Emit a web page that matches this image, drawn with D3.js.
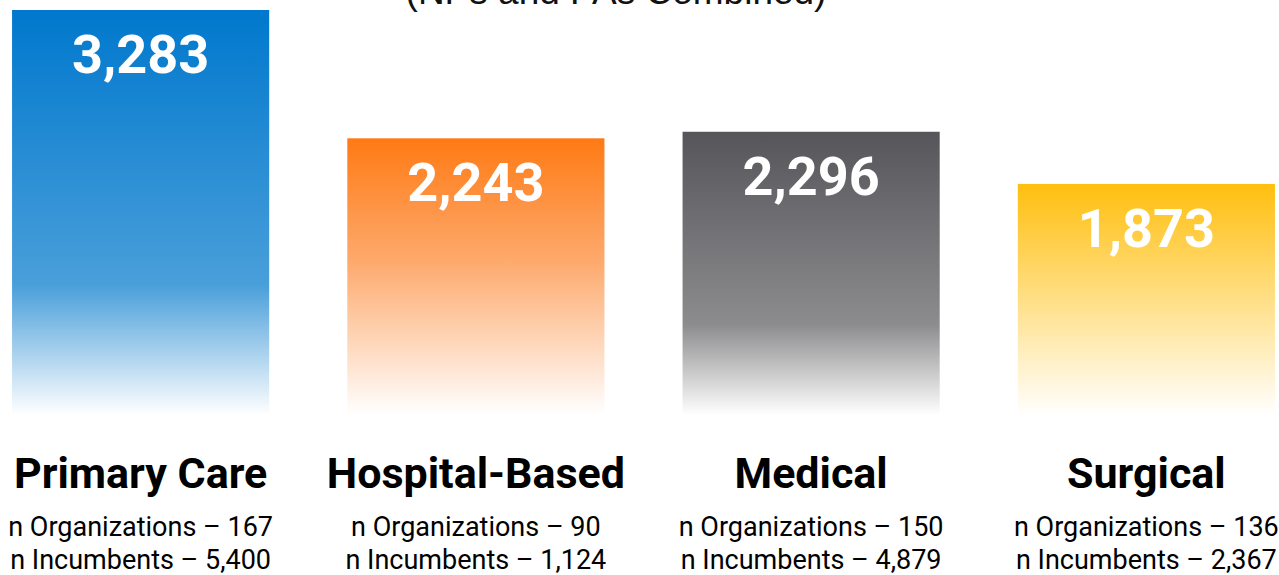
<!DOCTYPE html>
<html lang="en">
<head>
    <meta charset="UTF-8">
    <title>Compensation by Specialty Group</title>
    <script src="https://d3js.org/d3.v7.min.js"></script>
    <style>
        body { margin: 0; background: #fff; }
        svg { display: block; }
    </style>
</head>
<body>
    <div id="chart"></div>
    <script>
        // Data
        const categories = ["Primary Care", "Hospital-Based", "Medical", "Surgical"];
        const values = [3283, 2243, 2296, 1873];
        const organizations = [167, 90, 150, 136];
        const incumbents = [5400, 1124, 4879, 2367];
        const topColors = ["#0078cd", "#ff7a14", "#56555a", "#ffbf0f"];
        const midColors = ["#4a9fda", "#fdaa6e", "#8c8c8e", "#ffdc7a"];

        const width = 1279;
        const height = 575;
        const baseline = 415;

        const svg = d3.select("#chart")
            .append("svg")
            .attr("width", width)
            .attr("height", height);

        const x = d3.scaleBand()
            .domain(categories)
            .range([-27, 1314])
            .paddingInner(0.233)
            .paddingOuter(0.1165);

        const y = d3.scaleLinear()
            .domain([0, 3283])
            .range([baseline, 10]);

        const fmt = d3.format(",");

        // vertical gradients, fading to white at the bottom
        const defs = svg.append("defs");
        categories.forEach((c, i) => {
            const g = defs.append("linearGradient")
                .attr("id", "grad" + i)
                .attr("x1", 0).attr("y1", 0)
                .attr("x2", 0).attr("y2", 1);
            g.append("stop").attr("offset", "0%").attr("stop-color", topColors[i]);
            g.append("stop").attr("offset", i == 1 || i == 3 ? "45%" : "68%")
                .attr("stop-color", midColors[i]);
            g.append("stop").attr("offset", "100%").attr("stop-color", "#ffffff");
        });

        // title, cut off at the top edge as in the source image
        svg.append("text")
            .attr("x", 616)
            .attr("y", 4)
            .attr("text-anchor", "middle")
            .attr("font-family", "Liberation Sans, Arial, sans-serif")
            .attr("font-size", 37)
            .attr("fill", "#111")
            .text("(NPs and PAs Combined)");

        // bars
        svg.selectAll("rect.bar")
            .data(values)
            .enter().append("rect")
            .attr("class", "bar")
            .attr("x", (d, i) => x(categories[i]))
            .attr("y", d => y(d))
            .attr("width", x.bandwidth())
            .attr("height", d => baseline - y(d))
            .attr("fill", (d, i) => "url(#grad" + i + ")");

        // value labels
        svg.selectAll("text.value")
            .data(values)
            .enter().append("text")
            .attr("class", "value")
            .attr("x", (d, i) => x(categories[i]) + x.bandwidth() / 2)
            .attr("y", d => y(d) + 63)
            .attr("text-anchor", "middle")
            .attr("font-family", "Roboto, sans-serif")
            .attr("font-weight", "bold")
            .attr("font-size", 54)
            .attr("fill", "#fff")
            .text(d => fmt(d));

        // category names
        svg.selectAll("text.cat")
            .data(categories)
            .enter().append("text")
            .attr("class", "cat")
            .attr("x", d => x(d) + x.bandwidth() / 2)
            .attr("y", 488)
            .attr("text-anchor", "middle")
            .attr("font-family", "Roboto, sans-serif")
            .attr("font-weight", "bold")
            .attr("font-size", 43)
            .attr("fill", "#000")
            .text(d => d);

        // n lines
        svg.selectAll("text.org")
            .data(organizations)
            .enter().append("text")
            .attr("class", "org")
            .attr("x", (d, i) => x(categories[i]) + x.bandwidth() / 2)
            .attr("y", 536)
            .attr("text-anchor", "middle")
            .attr("font-family", "Roboto, sans-serif")
            .attr("font-size", 27)
            .attr("fill", "#000")
            .text(d => "n Organizations \u2013 " + fmt(d));

        svg.selectAll("text.inc")
            .data(incumbents)
            .enter().append("text")
            .attr("class", "inc")
            .attr("x", (d, i) => x(categories[i]) + x.bandwidth() / 2)
            .attr("y", 569)
            .attr("text-anchor", "middle")
            .attr("font-family", "Roboto, sans-serif")
            .attr("font-size", 27)
            .attr("fill", "#000")
            .text(d => "n Incumbents \u2013 " + fmt(d));
    </script>
</body>
</html>
